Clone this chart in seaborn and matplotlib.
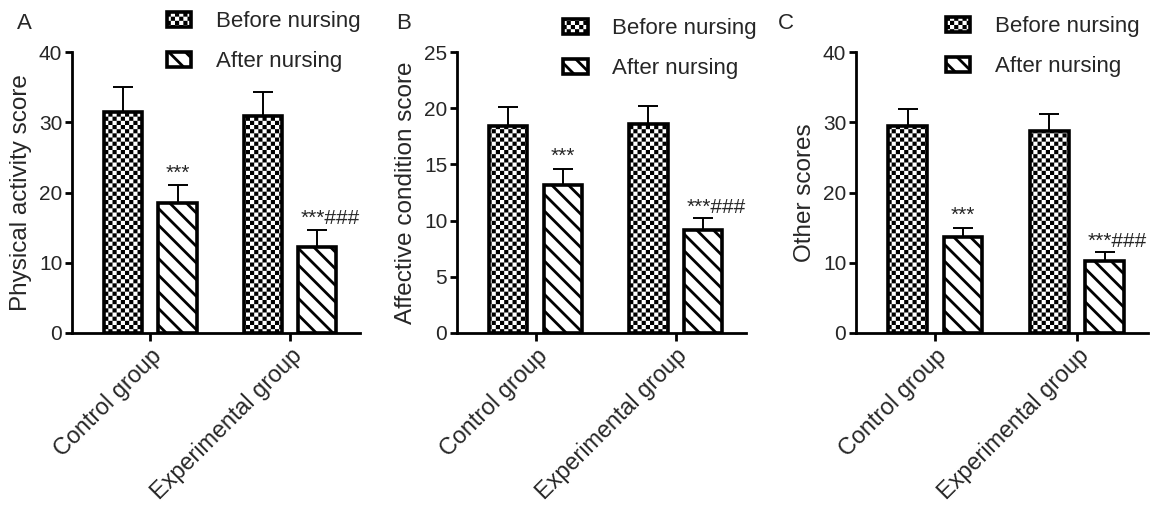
import warnings

import numpy as np
import pandas as pd
import matplotlib
matplotlib.use("Agg")
import matplotlib.pyplot as plt
from matplotlib import hatch as mhatch
from matplotlib.path import Path
from matplotlib.patches import Rectangle
import seaborn as sns

warnings.filterwarnings("ignore")

# ---------------------------------------------------------------- data
groups = ["Control group", "Experimental group"]
phases = ["Before nursing", "After nursing"]

physical_before = [31.5, 30.9]
physical_before_sd = [3.5, 3.4]
physical_after = [18.5, 12.3]
physical_after_sd = [2.5, 2.4]

affective_before = [18.4, 18.6]
affective_before_sd = [1.7, 1.6]
affective_after = [13.2, 9.2]
affective_after_sd = [1.4, 1.0]

other_before = [29.5, 28.8]
other_before_sd = [2.4, 2.4]
other_after = [13.7, 10.3]
other_after_sd = [1.3, 1.2]

after_marks = ["***", "***###"]

panel_letters = ["A", "B", "C"]
panel_ylabels = ["Physical activity score", "Affective condition score", "Other scores"]
panel_yticks = [[0, 10, 20, 30, 40], [0, 5, 10, 15, 20, 25], [0, 10, 20, 30, 40]]

# ---------------------------------------------------------------- style
DPI = 100
HATCH_LW = 2.0
sns.set_style("ticks")
plt.rcParams["font.family"] = ["Liberation Sans", "DejaVu Sans"]
plt.rcParams["hatch.linewidth"] = HATCH_LW
plt.rcParams["hatch.color"] = "black"


class CheckerHatch(mhatch.HatchPatternBase):
    """Checkerboard fill selected with the 'c' hatch character."""

    cells = 24  # squares per hatch tile side (even, so tiles join cleanly)

    def __init__(self, hatch, density):
        self.on = "c" in hatch
        self.num_vertices = (self.cells * self.cells // 2) * 5 if self.on else 0

    def set_vertices_and_codes(self, vertices, codes):
        n = self.cells
        step = 1.0 / n
        # the hatch path is also stroked, so shrink each square by half a line
        inset = (HATCH_LW * DPI / 72.0) / 2.0 / DPI
        k = 0
        for i in range(n):
            for j in range(n):
                if (i + j) % 2:
                    continue
                x0, y0 = i * step + inset, j * step + inset
                x1, y1 = (i + 1) * step - inset, (j + 1) * step - inset
                vertices[k:k + 5] = [(x0, y0), (x1, y0), (x1, y1), (x0, y1), (x0, y0)]
                codes[k:k + 5] = [Path.MOVETO, Path.LINETO, Path.LINETO,
                                  Path.LINETO, Path.CLOSEPOLY]
                k += 5


mhatch._hatch_types.append(CheckerHatch)

CHECKER = "c"
STRIPES = "\\\\"
EDGE_LW = 2.6

fig = plt.figure(figsize=(11.51, 5.05), dpi=DPI)
fig.patch.set_facecolor("white")

W, H = 1151.0, 505.0
axes_px = [(72, 288), (457, 289), (856, 292)]
legend_anchor = [(0.33, 1.037), (0.367, 1.012), (0.308, 1.018)]
letter_px = [(17, 13), (396, 13), (778, 13)]

panels = [
    (physical_before, physical_before_sd, physical_after, physical_after_sd),
    (affective_before, affective_before_sd, affective_after, affective_after_sd),
    (other_before, other_before_sd, other_after, other_after_sd),
]

for idx, (before, before_sd, after, after_sd) in enumerate(panels):
    left, width = axes_px[idx]
    ax = fig.add_axes([left / W, 1 - 333 / H, width / W, 281 / H])

    df = pd.DataFrame({
        "group": groups * 2,
        "phase": [phases[0]] * len(groups) + [phases[1]] * len(groups),
        "score": list(before) + list(after),
    })
    sns.barplot(data=df, x="group", y="score", hue="phase",
                order=groups, hue_order=phases,
                palette=["white", "white"], edgecolor="black",
                linewidth=EDGE_LW, width=0.78, gap=0.3,
                errorbar=None, legend=False, ax=ax, zorder=2)

    bar_sets = list(ax.containers[:2])
    for bar in bar_sets[0]:
        bar.set_hatch(CHECKER)
    for bar in bar_sets[1]:
        bar.set_hatch(STRIPES)

    # upper-only SD whiskers
    for bars, sd in zip(bar_sets, [before_sd, after_sd]):
        xs = [p.get_x() + p.get_width() / 2 for p in bars]
        ys = [p.get_height() for p in bars]
        ax.errorbar(xs, ys, yerr=[np.zeros(len(sd)), sd], fmt="none",
                    ecolor="black", elinewidth=1.4, capsize=7, capthick=1.4,
                    zorder=1)

    # significance marks above the after-nursing bars
    for p, sd, mark in zip(bar_sets[1], after_sd, after_marks):
        x = p.get_x() + p.get_width() / 2
        top = p.get_height() + sd
        if "#" in mark:
            ax.annotate(mark, (x, top), xytext=(-12, 4), textcoords="offset points",
                        ha="left", va="baseline", fontsize=15, annotation_clip=False)
        else:
            ax.annotate(mark, (x, top), xytext=(0, 5), textcoords="offset points",
                        ha="center", va="baseline", fontsize=15, annotation_clip=False)

    ticks = panel_yticks[idx]
    ax.set_ylim(ticks[0], ticks[-1])
    ax.set_yticks(ticks)
    ax.set_xlim(-0.56, 1.5)
    ax.set_xlabel("")
    ax.set_ylabel(panel_ylabels[idx], fontsize=17.5, labelpad=5)
    ax.set_xticks(range(len(groups)))
    ax.set_xticklabels(groups, rotation=45, ha="right", va="top",
                       rotation_mode="anchor", fontsize=16.8)
    ax.tick_params(axis="y", labelsize=15, length=5, width=2, pad=2, color="black")
    ax.tick_params(axis="x", length=6, width=2, pad=2, color="black")
    for side in ["top", "right"]:
        ax.spines[side].set_visible(False)
    for side in ["left", "bottom"]:
        ax.spines[side].set_linewidth(2)
        ax.spines[side].set_color("black")
    ax.set_facecolor("white")

    handles = [
        Rectangle((0, 0), 1, 1, facecolor="white", edgecolor="black",
                  linewidth=EDGE_LW, hatch=CHECKER),
        Rectangle((0, 0), 1, 1, facecolor="white", edgecolor="black",
                  linewidth=EDGE_LW, hatch=STRIPES),
    ]
    ax.legend(handles, phases, loc="center left", bbox_to_anchor=legend_anchor[idx],
              frameon=False, fontsize=16, handlelength=1.1, handleheight=0.65,
              handletextpad=1.1, labelspacing=0.85, borderpad=0, borderaxespad=0)

    lx, ly = letter_px[idx]
    fig.text(lx / W, 1 - ly / H, panel_letters[idx], fontsize=16, ha="left", va="top")

fig.savefig("out.png", dpi=DPI, facecolor="white")
